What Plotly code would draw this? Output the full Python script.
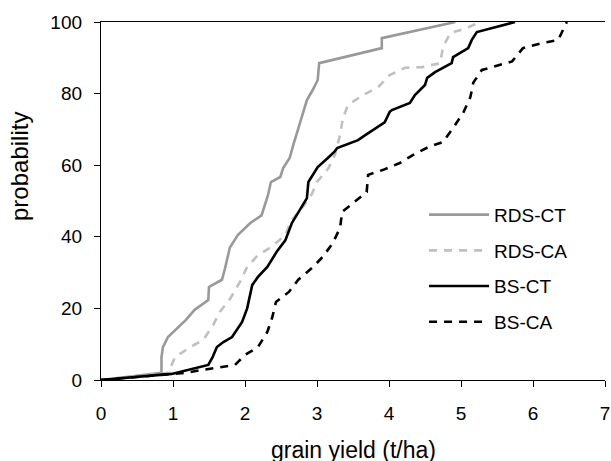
import plotly.graph_objects as go

# RDS-CT (grey solid)
rds_ct_x = [0, 0.84, 0.84, 0.86, 0.93, 1.07, 1.18, 1.30, 1.40, 1.49, 1.50, 1.68, 1.72, 1.79, 1.90, 2.07, 2.23, 2.28, 2.32, 2.36, 2.49, 2.53, 2.62, 2.67, 2.74, 2.81, 2.86, 2.94, 3.01, 3.03, 3.90, 3.90, 4.30, 4.64, 4.92]
rds_ct_y = [0, 2.0, 6.4, 9.2, 12.0, 14.8, 16.8, 19.6, 21.0, 22.3, 26.0, 28.0, 31.0, 37.0, 40.5, 43.8, 46.0, 48.9, 51.7, 55.3, 56.7, 59.2, 62.0, 65.6, 70.4, 74.9, 78.2, 81.0, 83.8, 88.5, 92.7, 95.5, 97.2, 98.6, 100]

# RDS-CA (light grey dashed)
rds_ca_x = [0, 0.93, 1.03, 1.24, 1.42, 1.56, 1.65, 1.80, 1.93, 2.03, 2.18, 2.37, 2.56, 2.65, 2.79, 2.93, 3.00, 3.16, 3.25, 3.32, 3.36, 3.43, 3.64, 3.85, 4.01, 4.22, 4.46, 4.71, 4.75, 4.85, 5.08, 5.26]
rds_ca_y = [0, 2.0, 6.4, 9.2, 11.2, 15.4, 19.0, 22.9, 27.4, 31.6, 34.9, 37.2, 40.5, 44.7, 48.0, 52.0, 55.3, 59.2, 63.0, 68.4, 73.2, 76.8, 79.6, 81.8, 85.2, 87.2, 87.4, 88.5, 93.0, 96.9, 98.3, 100]

# BS-CT (black solid)
bs_ct_x = [0, 0.98, 1.49, 1.55, 1.61, 1.70, 1.82, 1.89, 1.96, 2.03, 2.06, 2.10, 2.18, 2.31, 2.44, 2.56, 2.65, 2.76, 2.86, 2.88, 3.01, 3.15, 3.24, 3.28, 3.57, 3.67, 3.94, 4.01, 4.04, 4.29, 4.36, 4.50, 4.53, 4.64, 4.87, 4.89, 5.10, 5.15, 5.22, 5.75]
bs_ct_y = [0, 1.7, 4.2, 6.4, 9.2, 10.6, 12.0, 14.0, 16.2, 20.0, 23.2, 26.5, 28.8, 31.6, 35.8, 39.0, 43.8, 47.5, 50.8, 55.3, 59.5, 62.0, 63.7, 64.8, 67.0, 68.4, 72.0, 74.9, 75.4, 77.4, 79.6, 82.4, 84.4, 86.0, 88.5, 90.2, 92.7, 95.0, 97.2, 100]

# BS-CA (black dashed)
bs_ca_x = [0, 0.98, 1.17, 1.40, 1.63, 1.86, 2.00, 2.18, 2.31, 2.38, 2.43, 2.61, 2.74, 2.93, 3.08, 3.22, 3.32, 3.35, 3.50, 3.69, 3.71, 3.92, 4.15, 4.33, 4.54, 4.75, 4.89, 5.03, 5.13, 5.17, 5.29, 5.50, 5.71, 5.86, 6.10, 6.35, 6.44, 6.47]
bs_ca_y = [0, 1.7, 2.0, 2.8, 3.4, 4.2, 7.0, 9.2, 13.4, 17.6, 21.8, 24.6, 28.0, 31.3, 34.4, 38.3, 42.5, 47.0, 49.4, 52.5, 57.3, 58.7, 60.6, 62.8, 65.0, 66.5, 70.4, 74.6, 79.0, 83.0, 86.6, 87.7, 89.0, 92.7, 94.0, 95.0, 98.6, 100]

series_names = ["RDS-CT", "RDS-CA", "BS-CT", "BS-CA"]
x_tick_vals = [0, 1, 2, 3, 4, 5, 6, 7]
y_tick_vals = [0, 20, 40, 60, 80, 100]
x_title = "grain yield (t/ha)"
y_title = "probability"

FONT = "Liberation Sans, Arial, sans-serif"

fig = go.Figure()
styles = [
    dict(color="#999999", width=2.6, dash="solid"),
    dict(color="#c0c0c0", width=2.6, dash="8px,7px"),
    dict(color="#000000", width=2.6, dash="solid"),
    dict(color="#000000", width=2.6, dash="8px,7px"),
]
data = [(rds_ct_x, rds_ct_y), (rds_ca_x, rds_ca_y), (bs_ct_x, bs_ct_y), (bs_ca_x, bs_ca_y)]
for (xs, ys), name, st in zip(data, series_names, styles):
    fig.add_trace(go.Scatter(x=xs, y=ys, mode="lines", name=name, line=st,
                             legendgroup=name))

fig.update_layout(
    width=611, height=461,
    margin=dict(l=101, r=6, t=22, b=81, autoexpand=False),
    paper_bgcolor="white", plot_bgcolor="white",
    font=dict(family=FONT, size=19, color="#000000"),
    showlegend=True,
    legend=dict(x=0.641, y=0.312, xanchor="left", yanchor="middle",
                bgcolor="rgba(0,0,0,0)", font=dict(size=19),
                itemwidth=60, tracegroupgap=8, traceorder="grouped"),
    xaxis=dict(range=[0, 7], tickvals=x_tick_vals, showgrid=False, zeroline=False,
               showline=True, linecolor="#000000", linewidth=1.3, mirror=True,
               ticks="outside", ticklen=6, tickwidth=1.3, tickcolor="#000000",
               tickfont=dict(size=19), ticklabelstandoff=10,
               ticklabeloverflow="allow"),
    yaxis=dict(range=[0, 100], tickvals=y_tick_vals, showgrid=False, zeroline=False,
               showline=True, linecolor="#000000", linewidth=1.3,
               ticks="outside", ticklen=6, tickwidth=1.3, tickcolor="#000000",
               tickfont=dict(size=19), ticklabelstandoff=8),
    annotations=[
        dict(text=x_title, xref="paper", yref="paper", x=0.5, y=0,
             xanchor="center", yanchor="middle", yshift=-70, showarrow=False,
             font=dict(size=23)),
        dict(text=y_title, xref="paper", yref="paper", x=0, y=0.595,
             xanchor="center", yanchor="middle", xshift=-81, textangle=-90,
             showarrow=False, font=dict(size=24)),
    ],
)

# remove the page's default 8px body margin so the figure fills the window
fig.write_html("out.html",
               config={"displayModeBar": False},
               post_script="document.body.style.margin='0';document.body.style.overflow='hidden';")
